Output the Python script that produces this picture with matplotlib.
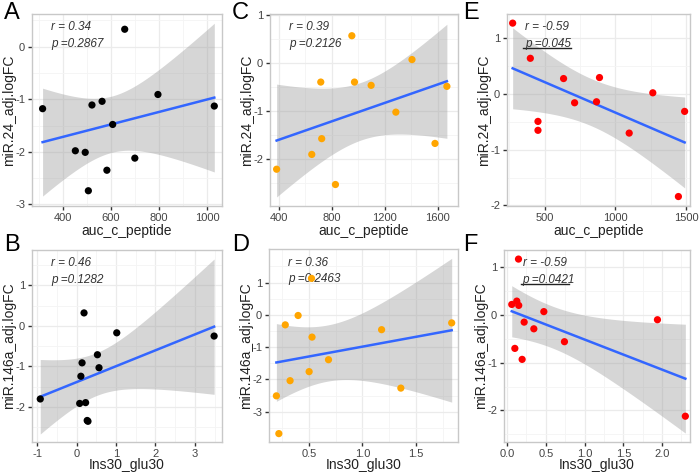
import numpy as np
import matplotlib
matplotlib.use("Agg")
import matplotlib.pyplot as plt
from matplotlib.lines import Line2D

plt.rcParams['font.family'] = ['Liberation Sans', 'DejaVu Sans']

# ---------------- data ----------------
A_x = [317, 522, 564, 658, 796, 1030, 608, 453, 494, 584, 700, 507]
A_y = [-1.18, -1.11, -1.04, 0.33, -0.91, -1.13, -1.48, -1.98, -2.01, -2.35, -2.12, -2.74]

C_x = [951, 1406, 716, 971, 1097, 1670, 1284, 723, 648, 1580, 382, 827]
C_y = [0.575, 0.076, -0.395, -0.395, -0.464, -0.485, -1.025, -1.58, -1.91, -1.68, -2.22, -2.54]

E_x = [274, 399, 634, 888, 712, 867, 1265, 1490, 453, 453, 1098, 1446]
E_y = [1.276, 0.644, 0.280, 0.298, -0.155, -0.137, 0.024, -0.31, -0.49, -0.65, -0.70, -1.84]

B_x = [-0.92, 0.19, 1.02, 0.53, 0.57, 0.14, 0.11, 0.08, 0.23, 0.27, 0.29, 3.49]
B_y = [-1.80, 0.32, -0.17, -0.71, -1.03, -0.91, -1.24, -1.91, -1.89, -2.33, -2.35, -0.25]

D_x = [0.525, 0.40, 0.28, 0.53, 0.684, 0.503, 0.325, 0.197, 0.22, 1.18, 1.36, 1.835]
D_y = [1.13, -0.02, -0.31, -0.69, -1.39, -1.76, -2.04, -2.51, -3.68, -0.46, -2.27, -0.25]

F_x = [0.147, 0.06, 0.125, 0.15, 0.474, 0.22, 0.345, 0.10, 0.194, 0.74, 1.94, 2.30]
F_y = [1.17, 0.22, 0.29, 0.20, 0.07, -0.15, -0.29, -0.70, -0.93, -0.56, -0.10, -2.12]

A_xticks = [400, 600, 800, 1000]
C_xticks = [400, 800, 1200, 1600]
E_xticks = [500, 1000, 1500]
B_xticks = [-1, 0, 1, 2, 3]
D_xticks = [0.5, 1.0, 1.5]
F_xticks = [0.0, 0.5, 1.0, 1.5, 2.0]
A_yticks = [-3, -2, -1, 0]
C_yticks = [-2, -1, 0, 1]
E_yticks = [-2, -1, 0, 1]
B_yticks = [-2, -1, 0, 1]
D_yticks = [-3, -2, -1, 0, 1]
F_yticks = [-2, -1, 0, 1]

# axis ranges
A_lims = ((273, 1062), (-3.03, 0.62))
C_lims = ((332, 1754), (-2.99, 1.03))
E_lims = ((234, 1528), (-2.01, 1.44))
B_lims = ((-1.13, 3.69), (-2.86, 1.87))
D_lims = ((0.128, 1.894), (-3.94, 2.04))
F_lims = ((-0.04, 2.36), (-2.66, 1.36))

A_stats = ["r = 0.34", "p =0.2867"]
C_stats = ["r = 0.39", "p =0.2126"]
E_stats = ["r = -0.59", "p =0.045"]
B_stats = ["r = 0.46", "p =0.1282"]
D_stats = ["r = 0.36", "p =0.2463"]
F_stats = ["r = -0.59", "p =0.0421"]

xlabel_top = "auc_c_peptide"
xlabel_bottom = "Ins30_glu30"
ylabel_top = "miR.24_adj.logFC"
ylabel_bottom = "miR.146a_adj.logFC"

# t quantiles (0.975) by degrees of freedom
T975 = {8: 2.306, 9: 2.262, 10: 2.228, 11: 2.201, 12: 2.179}

panels = [
    # letter, x, y, color, xticks, yticks, stats, xlabel, ylabel, underline,
    # box(px: left, top, right, bottom), xfmt, lims, letter pos
    ("A", A_x, A_y, "black", A_xticks, A_yticks, A_stats, xlabel_top, ylabel_top, False,
     (32, 14, 222, 206), "{:.0f}", A_lims, (4, 13)),
    ("C", C_x, C_y, "#FFA500", C_xticks, C_yticks, C_stats, xlabel_top, ylabel_top, False,
     (270, 14, 458, 206), "{:.0f}", C_lims, (232, 13)),
    ("E", E_x, E_y, "#FF0000", E_xticks, E_yticks, E_stats, xlabel_top, ylabel_top, True,
     (507, 14, 690, 206), "{:.0f}", E_lims, (463, 13)),
    ("B", B_x, B_y, "black", B_xticks, B_yticks, B_stats, xlabel_bottom, ylabel_bottom, False,
     (32, 250, 222, 442), "{:.0f}", B_lims, (4, 245)),
    ("D", D_x, D_y, "#FFA500", D_xticks, D_yticks, D_stats, xlabel_bottom, ylabel_bottom, False,
     (269, 249, 458, 442), "{:.1f}", D_lims, (232, 245)),
    ("F", F_x, F_y, "#FF0000", F_xticks, F_yticks, F_stats, xlabel_bottom, ylabel_bottom, True,
     (504, 250, 690, 442), "{:.1f}", F_lims, (463, 245)),
]

W, H = 700, 475
fig = plt.figure(figsize=(W / 100, H / 100), dpi=100)

for (letter, xs, ys, col, xt, yt, stats, xl, yl, uline, box, xfmt, lims,
     lpos) in panels:
    x = np.asarray(xs, float)
    y = np.asarray(ys, float)
    l, t, r, b = box
    ax = fig.add_axes([l / W, 1 - b / H, (r - l) / W, (b - t) / H])

    # linear fit + 95% CI ribbon (like geom_smooth(method='lm'))
    n = len(x)
    slope, icpt = np.polyfit(x, y, 1)
    resid = y - (slope * x + icpt)
    s = np.sqrt(np.sum(resid ** 2) / (n - 2))
    xm = x.mean()
    sxx = np.sum((x - xm) ** 2)
    xg = np.linspace(x.min(), x.max(), 80)
    yg = slope * xg + icpt
    se = s * np.sqrt(1.0 / n + (xg - xm) ** 2 / sxx)
    tq = T975.get(n - 2, 2.228)
    lo, hi = yg - tq * se, yg + tq * se

    ax.fill_between(xg, lo, hi, color="#999999", alpha=0.4, linewidth=0, zorder=2)
    ax.plot(xg, yg, color="#3366FF", lw=1.8, zorder=3)
    ax.scatter(x, y, s=27, color=col, edgecolors="none", zorder=4)

    xt_arr = np.asarray(xt, float)
    yt_arr = np.asarray(yt, float)
    sx = xt_arr[1] - xt_arr[0]
    sy = yt_arr[1] - yt_arr[0]
    ax.set_xticks(xt_arr)
    ax.set_xticklabels([xfmt.format(v) for v in xt])
    ax.set_yticks(yt_arr)
    ax.set_yticklabels([str(v) for v in yt])
    ax.set_xticks(np.concatenate([xt_arr[:1] - sx / 2, xt_arr + sx / 2]), minor=True)
    ax.set_yticks(np.concatenate([yt_arr[:1] - sy / 2, yt_arr + sy / 2]), minor=True)
    ax.set_xlim(*lims[0])
    ax.set_ylim(*lims[1])

    ax.grid(True, which="major", color="#ebebeb", lw=0.9, zorder=0)
    ax.grid(True, which="minor", color="#f4f4f4", lw=0.6, zorder=0)
    ax.set_axisbelow(True)
    for sp in ax.spines.values():
        sp.set_color("#c8c8c8")
        sp.set_linewidth(1.0)
    ax.tick_params(which="major", length=3, width=1, color="#333333",
                   labelsize=8, labelcolor="#444444", pad=2)
    ax.tick_params(which="minor", length=0)

    hpx = b - t
    wpx = r - l
    ax.set_xlabel(xl, fontsize=10, color="#222222")
    ax.xaxis.label.set_va("center")
    ax.xaxis.set_label_coords(0.5, -(25 if t < 100 else 23) / hpx)
    ax.set_ylabel(yl, fontsize=10, color="#222222")
    ax.yaxis.label.set_va("center")
    ax.yaxis.set_label_coords(-23 / wpx, 0.5)

    ax.text(0.1, 0.93, stats[0], transform=ax.transAxes, fontsize=8.5,
            style="italic", color="#333333", ha="left", va="center")
    ax.text(0.1, 0.845, stats[1], transform=ax.transAxes, fontsize=8.5,
            style="italic", color="#333333", ha="left", va="center")
    if uline:
        ax.add_line(Line2D([0.09, 0.35], [0.823, 0.823], transform=ax.transAxes,
                           color="#222222", lw=1.0, clip_on=False))

    fig.text(lpos[0] / W, 1 - lpos[1] / H, letter, fontsize=17,
             ha="left", va="center", color="black")

fig.savefig("out.png", dpi=100)
